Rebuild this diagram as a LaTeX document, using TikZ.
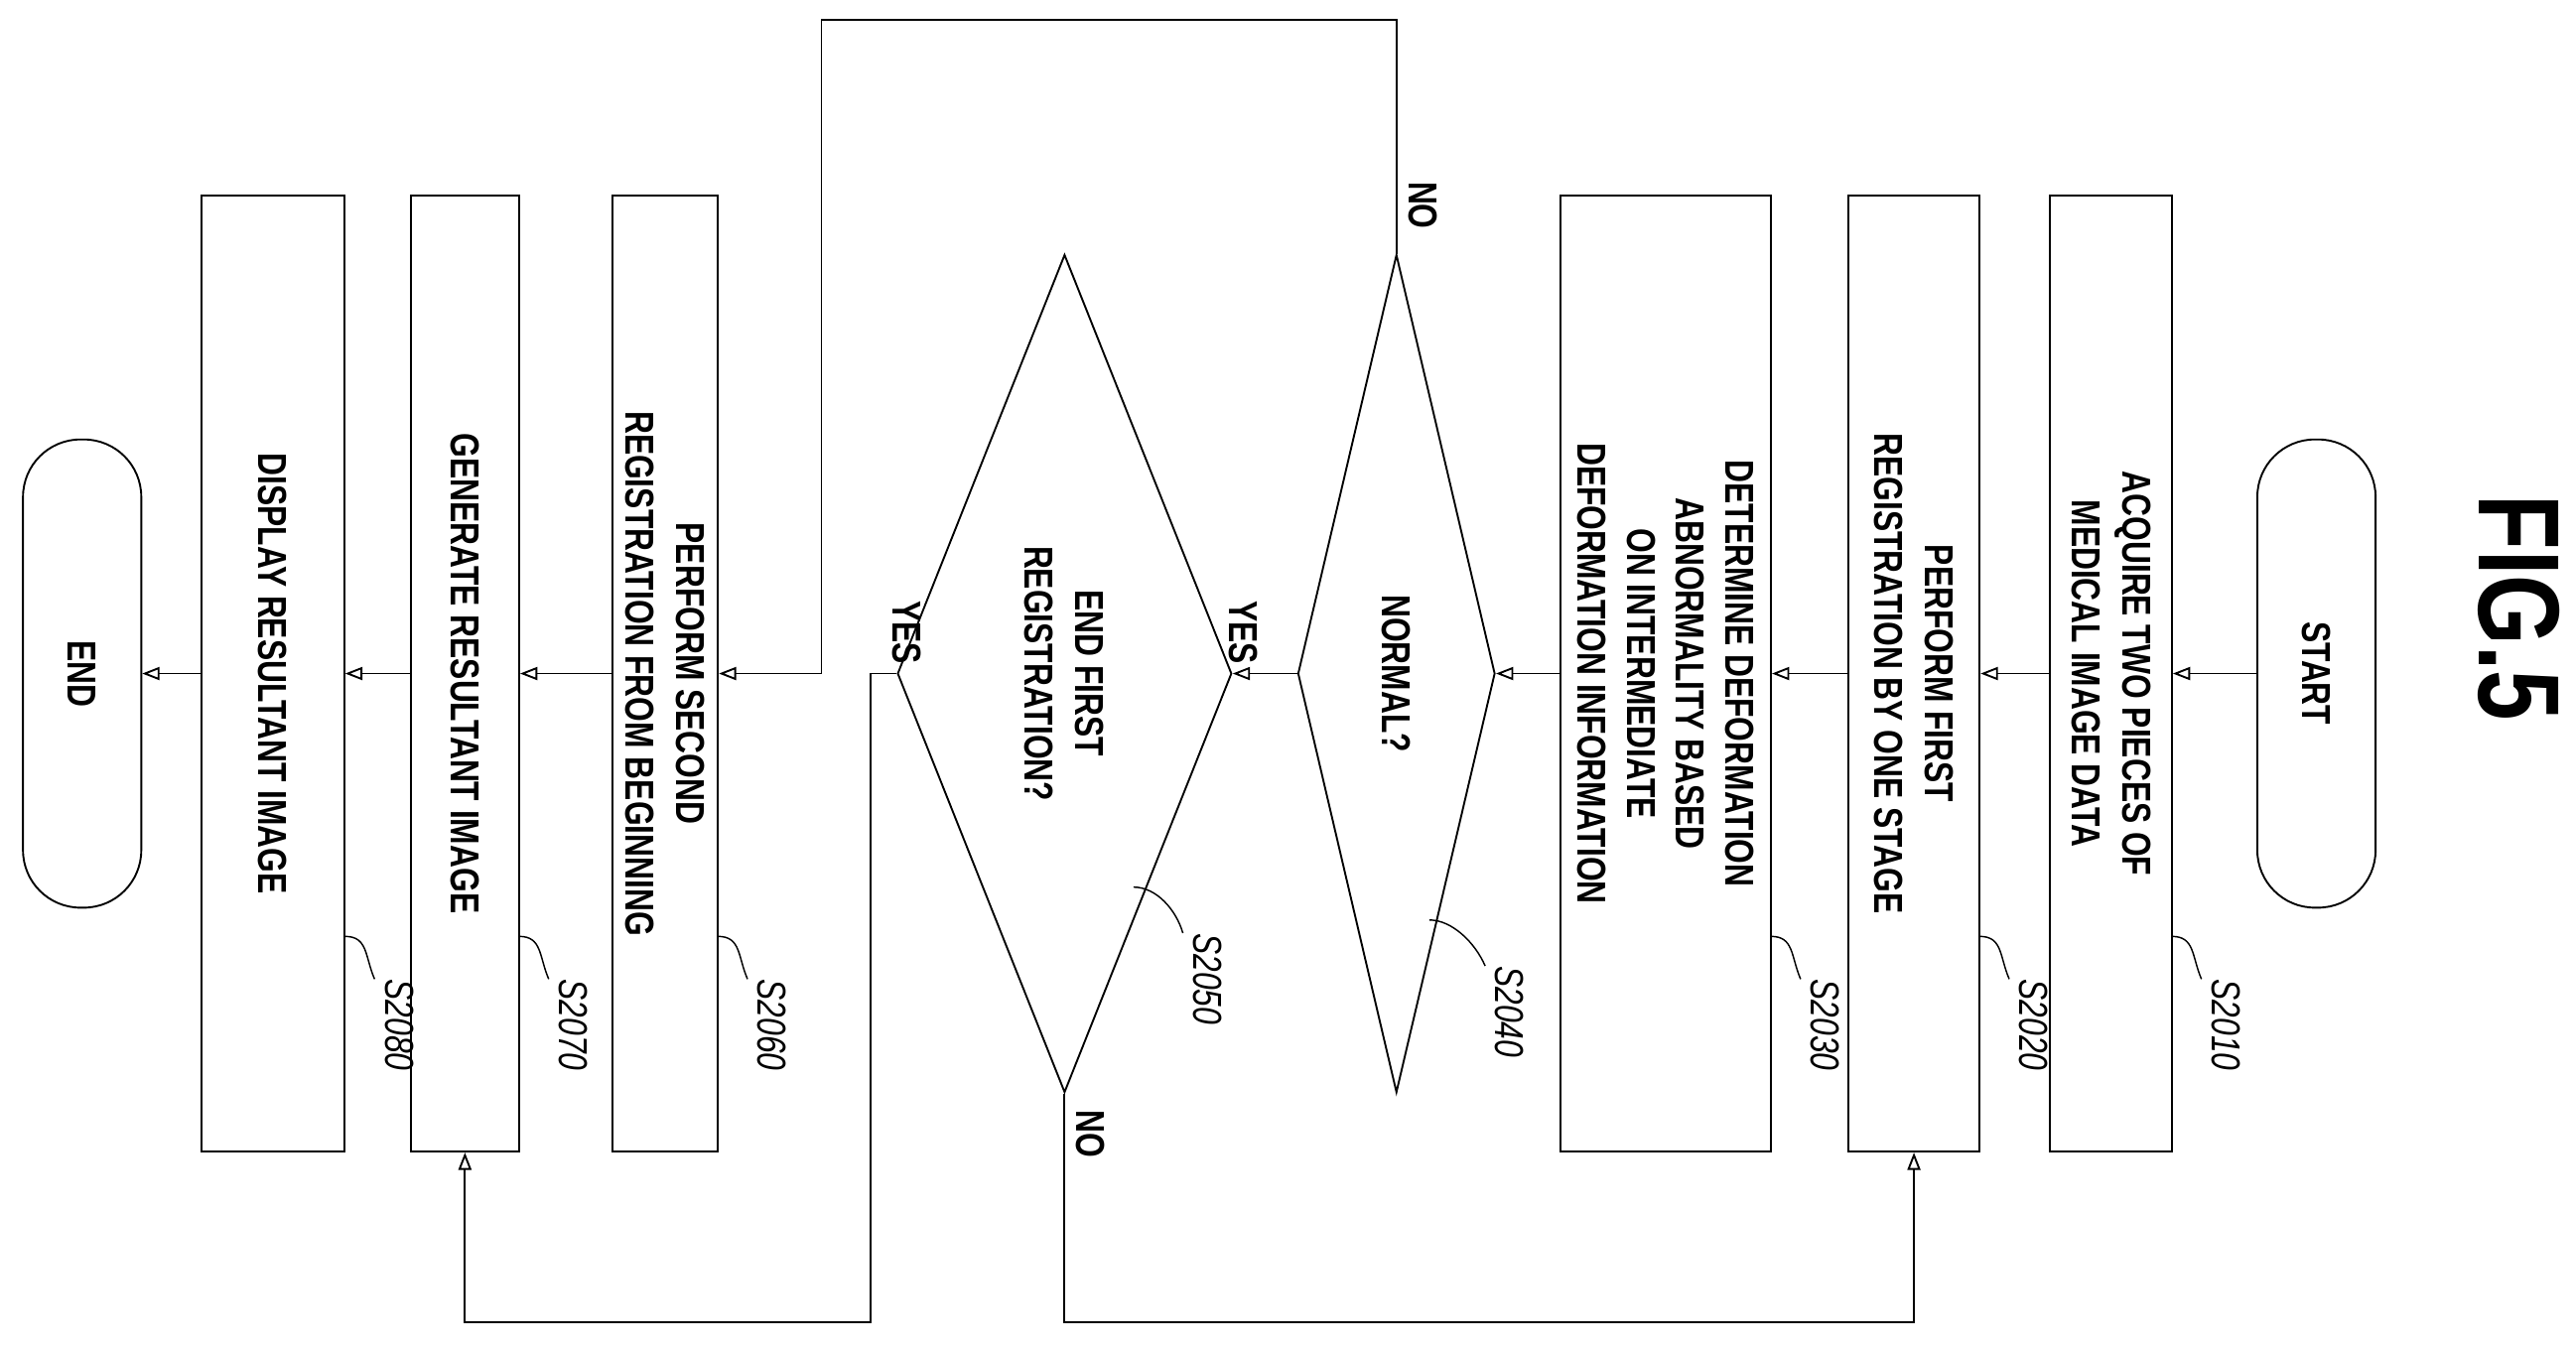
\documentclass[tikz,border=0pt]{standalone}
\usepackage{fontspec}
\setmainfont{Liberation Sans}[FakeStretch=0.78]
\usetikzlibrary{shapes.geometric,arrows.meta}

\tikzset{
  procbox/.style={draw, line width=1.3pt, rotate=-90, inner sep=0pt, align=center,
    minimum width=232.8mm, font=\bfseries\fontsize{28}{35}\selectfont},
  term/.style={procbox, rounded corners=14mm, minimum width=114mm, minimum height=28.8mm},
  decide/.style={procbox, diamond, minimum width=204mm},
  flow/.style={line width=1.3pt, -{Triangle[open, length=12pt, width=9pt]}},
  lbl/.style={rotate=-90, inner sep=0pt, font=\bfseries\fontsize{28}{32}\selectfont},
  stepno/.style={lbl, anchor=west, font=\itshape\fontsize{28}{32}\selectfont},
}

\begin{document}
\begin{tikzpicture}[x=0.4mm, y=0.4mm]

\useasboundingbox (0,0) rectangle (1568,822);

\node [lbl, font=\bfseries\fontsize{80}{80}\selectfont] (fig) at (1533,452) {FIG.5};

% right column
\node [term] (start) at (1410,412) {START};
\node [procbox, minimum height=29.6mm] (s2010) at (1285,412) {ACQUIRE TWO PIECES OF\\MEDICAL IMAGE DATA};
\node [procbox, minimum height=32mm] (s2020) at (1165,412) {PERFORM FIRST\\REGISTRATION BY ONE STAGE};
\node [procbox, minimum height=51.2mm, font=\bfseries\fontsize{28}{34}\selectfont] (s2030) at (1014,412)
  {DETERMINE DEFORMATION\\ABNORMALITY BASED\\ON INTERMEDIATE\\DEFORMATION INFORMATION};

% decisions
\node [decide, minimum height=48mm] (d2040) at (850,412) {NORMAL?};
\node [decide, minimum height=58.8mm] (d2050) at (648,412) {END FIRST\\REGISTRATION?};

% left column
\node [procbox, minimum height=25.6mm] (s2060) at (405,412) {PERFORM SECOND\\REGISTRATION FROM BEGINNING};
\node [procbox, minimum height=26.4mm] (s2070) at (283,412) {GENERATE RESULTANT IMAGE};
\node [procbox, minimum height=34.8mm] (s2080) at (166,412) {DISPLAY RESULTANT IMAGE};
\node [term] (end) at (50,412) {END};

% main flow
\draw [flow] (start) -- (s2010);
\draw [flow] (s2010) -- (s2020);
\draw [flow] (s2020) -- (s2030);
\draw [flow] (s2030) -- (d2040);
\draw [flow] (d2040) -- (d2050);
\draw [flow] (s2060) -- (s2070);
\draw [flow] (s2070) -- (s2080);
\draw [flow] (s2080) -- (end);

% loops
\coordinate (no1) at (500,810);
\draw [flow] (d2040.west) |- (no1) |- (s2060);
\coordinate (no2) at (1165,17);
\draw [flow] (d2050.east) |- (no2) -- (s2020);
\coordinate (yes1) at (530,17);
\coordinate (yes2) at (283,17);
\draw [flow] (d2050.south) -| (yes1) -- (yes2) -- (s2070);

\node [lbl] (no1l) at (866,697) {NO};
\node [lbl] (yes1l) at (757,437) {YES};
\node [lbl] (yes2l) at (552,437) {YES};
\node [lbl] (no2l) at (664,132) {NO};

% step numbers
\foreach \n/\x/\xl in {2010/1322/1340, 2020/1205/1223, 2030/1078/1096, 2060/437/455, 2070/316/334, 2080/210/228} {
  \draw [line width=1pt] (\x,252) .. controls (\x+14,252) and (\xl-6,240) .. (\xl,226);
  \node [stepno] (l\n) at (\xl+15,226) {S\n};
}
\draw [line width=1pt] (870,262) .. controls (884,262) and (898,248) .. (904,234);
\node [stepno] (l2040) at (919,234) {S2040};
\draw [line width=1pt] (690,282) .. controls (704,282) and (716,268) .. (720,254);
\node [stepno] (l2050) at (735,254) {S2050};

\end{tikzpicture}
\end{document}
